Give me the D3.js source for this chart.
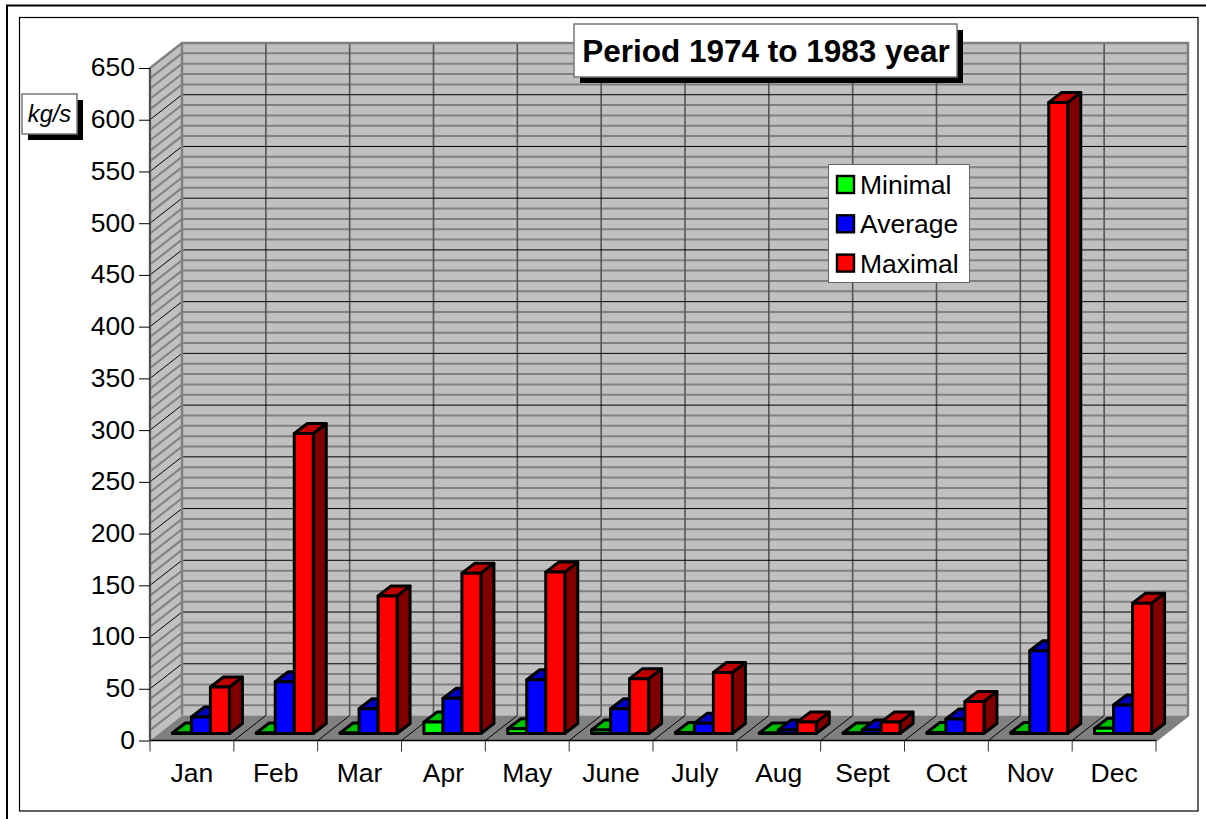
<!DOCTYPE html>
<html><head><meta charset="utf-8">
<script src="https://cdnjs.cloudflare.com/ajax/libs/d3/7.8.5/d3.min.js"></script>
<style>html,body{margin:0;background:#fff}svg{display:block}text{font-family:"Liberation Sans",Arial,sans-serif;fill:#000}</style>
</head><body><svg id="c" width="1206" height="819"></svg>
<script>
const months=["Jan","Feb","Mar","Apr","May","June","July","Aug","Sept","Oct","Nov","Dec"];
const minimal=[0.5,0.5,0.5,11,4.5,3.5,1,0.5,0.5,1,1,5];
const average=[16,50,24,34,52,24,10,3.5,3.5,14,80,27.5];
const maximal=[45,290,133,155,156,53,59,11,11,31,610,126];
const seriesNames=["Minimal","Average","Maximal"];
const fronts=["#00ff00","#0000ff","#ff0000"];
const tops=["#00c000","#0000c0","#c00000"];
const sides=["#008000","#000080","#800000"];
const yTicks=d3.range(0,651,50);
const yMinor=d3.range(0,651,10);

const svg=d3.select("#c");
const x=d3.scaleBand().domain(months).range([150,1156]);
const y=d3.scaleLinear().domain([0,650]).range([740.5,68]);
const DX=32,DY=-25;
const pts=a=>a.map(p=>p.join(",")).join(" ");

// frames
svg.append("path").attr("d","M7,819V5.5H1206").attr("fill","none").attr("stroke","#000").attr("stroke-width",2);
svg.append("rect").attr("x",19.5).attr("y",17.5).attr("width",1178.5).attr("height",793.5).attr("fill","#fff").attr("stroke","#000").attr("stroke-width",1.2);

// walls
svg.append("polygon").attr("points",pts([[150+DX,y(650)+DY],[1156+DX,y(650)+DY],[1156+DX,y(0)+DY],[150+DX,y(0)+DY]])).attr("fill","#c0c0c0");
svg.append("polygon").attr("points",pts([[150,y(650)],[150+DX,y(650)+DY],[150+DX,y(0)+DY],[150,y(0)]])).attr("fill","#c0c0c0");
svg.append("polygon").attr("points",pts([[150,y(0)],[150+DX,y(0)+DY],[1156+DX,y(0)+DY],[1156,y(0)]])).attr("fill","#808080");

// minor grid
const minor=yMinor.filter(v=>v%50!==0);
svg.append("g").selectAll("path").data(minor).join("path")
 .attr("d",v=>`M150,${y(v)}L${150+DX},${y(v)+DY}H${1156+DX}`)
 .attr("fill","none").attr("stroke","#808080").attr("stroke-width",2);
// vertical back grid
svg.append("g").selectAll("line").data(d3.range(1,12)).join("line")
 .attr("x1",i=>150+i*x.step()+DX).attr("x2",i=>150+i*x.step()+DX)
 .attr("y1",y(650)+DY).attr("y2",y(0)+DY).attr("stroke","#555").attr("stroke-width",1.6);
// major grid
svg.append("g").selectAll("path").data(yTicks.filter(v=>v>0&&v<650)).join("path")
 .attr("d",v=>`M150,${y(v)}L${150+DX},${y(v)+DY}H${1156+DX}`)
 .attr("fill","none").attr("stroke","#000").attr("stroke-width",1);
// floor division lines
svg.append("g").selectAll("line").data(d3.range(1,12)).join("line")
 .attr("x1",i=>150+i*x.step()).attr("x2",i=>150+i*x.step()+DX)
 .attr("y1",y(0)).attr("y2",y(0)+DY).attr("stroke","#000").attr("stroke-width",1);
// wall borders
svg.append("path").attr("d",`M150,${y(0)}V${y(650)}L${150+DX},${y(650)+DY}H${1156+DX}V${y(0)+DY}L1156,${y(0)}`)
 .attr("fill","none").attr("stroke","#808080").attr("stroke-width",2.5);
svg.append("line").attr("x1",150+DX).attr("x2",150+DX).attr("y1",y(650)+DY).attr("y2",y(0)+DY).attr("stroke","#808080").attr("stroke-width",2.5);
svg.append("path").attr("d",`M150,${y(0)}H1156`).attr("stroke","#000").attr("stroke-width",1.4);
svg.append("path").attr("d",`M150,${y(650)}V${y(0)}`).attr("stroke","#444").attr("stroke-width",1.5);

// axes
const gy=svg.append("g").attr("transform","translate(150,0)").call(d3.axisLeft(y).tickValues(yTicks).tickSize(11).tickPadding(4).tickFormat(d3.format("d")));
gy.select(".domain").remove();
gy.selectAll("line").attr("stroke","#000").attr("stroke-width",1);
gy.selectAll("text").attr("font-size",26.5).attr("dy","0.3em");
const gx=svg.append("g").attr("transform",`translate(0,${y(0)})`).call(d3.axisBottom(x).tickSize(0).tickPadding(23));
gx.select(".domain").remove();
gx.selectAll("text").attr("font-size",26.5);
svg.append("g").selectAll("line").data(d3.range(0,13)).join("line")
 .attr("x1",i=>150+i*x.step()).attr("x2",i=>150+i*x.step())
 .attr("y1",y(0)).attr("y2",y(0)+11).attr("stroke","#333").attr("stroke-width",1);

// bars
const BW=19,bDX=13,bDY=-10,oDX=9,oDY=-7;
const all=[minimal,average,maximal];
const barsG=svg.append("g");
months.forEach((m,i)=>{
  all.forEach((s,k)=>{
    const x0=x(m)+oDX+(x.step()-3*BW)/2+k*BW, x1=x0+BW;
    const yb=y(0)+oDY, yt=y(s[i])+oDY;
    const g=barsG.append("g").attr("stroke","#000").attr("stroke-width",3).attr("stroke-linejoin","round");
    g.append("polygon").attr("points",pts([[x1,yb],[x1+bDX,yb+bDY],[x1+bDX,yt+bDY],[x1,yt]])).attr("fill",sides[k]);
    g.append("polygon").attr("points",pts([[x0,yt],[x0+bDX,yt+bDY],[x1+bDX,yt+bDY],[x1,yt]])).attr("fill",tops[k]);
    g.append("rect").attr("x",x0).attr("y",yt).attr("width",BW).attr("height",Math.max(yb-yt,0)).attr("fill",fronts[k]);
  });
});

// title
function box(bx,by,w,h,off){
  svg.append("rect").attr("x",bx+off).attr("y",by+off).attr("width",w).attr("height",h).attr("fill","#000");
  svg.append("rect").attr("x",bx).attr("y",by).attr("width",w).attr("height",h).attr("fill","#fff").attr("stroke","#777").attr("stroke-width",1.5);
}
box(574,24,383,53,6);
svg.append("text").attr("x",766).attr("y",62).attr("text-anchor","middle").attr("font-size",31.5).attr("font-weight","bold").text("Period 1974 to 1983 year");
box(22,94,55,40,6);
svg.append("text").attr("x",49.5).attr("y",122).attr("text-anchor","middle").attr("font-size",23.6).attr("font-style","italic").text("kg/s");

// legend
svg.append("rect").attr("x",828.5).attr("y",164.5).attr("width",141).attr("height",118).attr("fill","#fff").attr("stroke","#666");
seriesNames.forEach((n,k)=>{
  const cy=185+k*39.3;
  svg.append("rect").attr("x",837).attr("y",cy-9).attr("width",17).attr("height",17).attr("fill",fronts[k]).attr("stroke","#000").attr("stroke-width",2.4);
  svg.append("text").attr("x",860).attr("y",cy+9).attr("font-size",26.5).text(n);
});
</script></body></html>
